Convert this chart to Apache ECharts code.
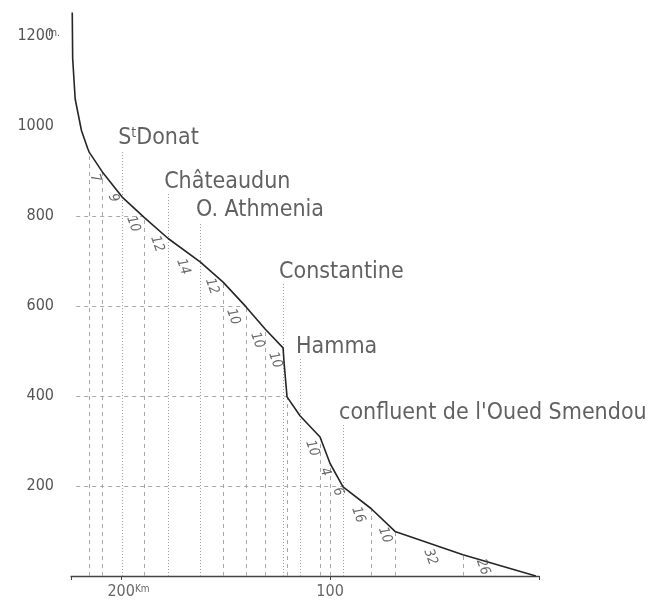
<!DOCTYPE html>
<html>
<head>
<meta charset="utf-8">
<script src="https://cdn.jsdelivr.net/npm/echarts@6/dist/echarts.min.js"></script>
<style>
html,body{margin:0;padding:0;background:#fff;}
#chart{width:651px;height:608px;}
</style>
</head>
<body>
<div id="chart"></div>
<script>
// profil en long : distance a l'embouchure (km) / altitude (m)
var profileKm = [223.4, 223.2, 222, 219, 216, 215.3, 209, 199.5, 189, 177.5, 162.2, 151.2, 140.2, 131.1, 122.5, 122.0, 120.6, 114.4, 104.8, 100, 93.8, 80.4, 68.9, 36.4, 1.5];
var profileElev = [1252, 1150, 1060, 990, 950, 942, 898, 842, 797, 750, 698, 653, 598, 549, 507, 473, 398, 356, 309, 250, 198, 150, 99, 47, 0];

// limites des troncons (tirets verticaux)
var gradeKm = [215.3, 209, 189, 151.2, 140.2, 131.1, 120.6, 104.8, 100, 80.4, 68.9, 36.4];

// pentes par troncon
var slopeValues = [7, 9, 10, 12, 14, 12, 10, 10, 10, 10, 4, 6, 16, 10, 32, 26];
var slopeKm = [212.4, 203.8, 194.3, 182.8, 170.3, 156.5, 146.4, 134.9, 126.3, 108.6, 102.4, 96.2, 86.6, 73.7, 52, 26.8];
var slopeElev = [884, 840, 782, 738, 687, 644, 576, 524, 480, 284, 231, 187, 136, 91, 42, 20];

// localites
var placeNames = ['St Donat', 'Châteaudun', 'O. Athmenia', 'Constantine', 'Hamma', "confluent de l'Oued Smendou"];
var placeKm = [199.5, 177.5, 162.2, 122.5, 114.4, 93.8];
var placeTop = [947, 851, 787, 651, 484, 336];

// courbes de niveau en tirets
var levelElev = [200, 400, 600, 800];
var levelStartKm = 221.5;

function elevAtKm(k) {
	for (var i = 0; i < profileKm.length - 1; i++) {
		var a = profileKm[i], b = profileKm[i + 1];
		if (k <= a && k >= b) {
			return profileElev[i] + (profileElev[i + 1] - profileElev[i]) * (a - k) / (a - b);
		}
	}
	return 0;
}

function kmAtElev(e) {
	for (var i = 0; i < profileElev.length - 1; i++) {
		var a = profileElev[i], b = profileElev[i + 1];
		if (e <= a && e >= b) {
			return profileKm[i] + (profileKm[i + 1] - profileKm[i]) * (a - e) / (a - b);
		}
	}
	return 0;
}

var chart = echarts.init(document.getElementById('chart'));

var profile = [];
for (var i = 0; i < profileKm.length; i++) {
	profile.push([profileKm[i], profileElev[i]]);
}

var guideLines = [];
for (var i = 0; i < levelElev.length; i++) {
	guideLines.push([{coord: [levelStartKm, levelElev[i]]}, {coord: [kmAtElev(levelElev[i]), levelElev[i]]}]);
}
for (var i = 0; i < gradeKm.length; i++) {
	guideLines.push([{coord: [gradeKm[i], 0]}, {coord: [gradeKm[i], elevAtKm(gradeKm[i])]}]);
}

var placeLines = [];
var places = [];
for (var i = 0; i < placeNames.length; i++) {
	placeLines.push([{coord: [placeKm[i], 0]}, {coord: [placeKm[i], placeTop[i]]}]);
	places.push({name: placeNames[i], value: [placeKm[i], placeTop[i]]});
}

var slopes = [];
for (var i = 0; i < slopeValues.length; i++) {
	slopes.push({name: String(slopeValues[i]), value: [slopeKm[i], slopeElev[i]]});
}

var font = 'DejaVu Sans Condensed';

var option = {
	animation: false,
	backgroundColor: '#fff',
	grid: {
		left: 71,
		right: 112,
		top: 36,
		bottom: 32
	},
	xAxis: {
		type: 'value',
		min: 0,
		max: 224,
		interval: 100,
		inverse: true,
		axisLine: {
			lineStyle: {color: '#444', width: 1.4}
		},
		axisTick: {
			length: 4,
			lineStyle: {color: '#444'}
		},
		splitLine: {show: false},
		axisLabel: {
			margin: 8,
			color: '#666',
			fontFamily: font,
			fontSize: 16,
			formatter: function(v) {
				if (v === 200) return '{pad|Km}200{sup|Km}';
				if (v === 100) return '100';
				return '';
			},
			rich: {
				pad: {fontSize: 10, color: 'rgba(0,0,0,0)', fontFamily: font},
				sup: {fontSize: 10, color: '#666', verticalAlign: 'top', fontFamily: font}
			}
		}
	},
	yAxis: {
		type: 'value',
		min: 0,
		max: 1200,
		interval: 200,
		axisLine: {show: false},
		axisTick: {show: false},
		splitLine: {show: false},
		axisLabel: {
			margin: 17,
			color: '#555',
			fontFamily: font,
			fontSize: 16,
			formatter: function(v) {
				if (v === 0) return '';
				if (v === 1200) return '1200{sup|m.}';
				return String(v);
			},
			rich: {
				sup: {fontSize: 10, color: '#555', verticalAlign: 'top', width: 0, align: 'left', fontFamily: font}
			}
		}
	},
	series: [{
		type: 'line',
		data: profile,
		clip: false,
		symbol: 'none',
		silent: true,
		z: 5,
		lineStyle: {color: '#262626', width: 1.6},
		markLine: {
			silent: true,
			symbol: ['none', 'none'],
			label: {show: false},
			lineStyle: {color: '#a8a8a8', width: 1, type: [4, 4]},
			data: guideLines
		}
	}, {
		type: 'scatter',
		data: places,
		symbolSize: 0,
		silent: true,
		z: 6,
		label: {
			show: true,
			position: 'top',
			distance: 0,
			align: 'left',
			offset: [-4, 0],
			color: '#3a3a3a',
			fontFamily: font,
			fontSize: 23,
			formatter: function(p) {
				return p.name.replace('St ', 'S{sup|t}');
			},
			rich: {
				sup: {fontSize: 14, color: '#3a3a3a', verticalAlign: 'top', fontFamily: font}
			}
		},
		markLine: {
			silent: true,
			symbol: ['none', 'none'],
			label: {show: false},
			lineStyle: {color: '#a0a0a0', width: 1, type: [1, 2]},
			data: placeLines
		}
	}, {
		type: 'scatter',
		data: slopes,
		symbolSize: 0,
		silent: true,
		z: 6,
		label: {
			show: true,
			position: 'inside',
			rotate: -70,
			color: '#444',
			fontFamily: font,
			fontStyle: 'italic',
			fontSize: 14,
			formatter: '{b}'
		}
	}]
};

chart.setOption(option);
</script>
</body>
</html>
